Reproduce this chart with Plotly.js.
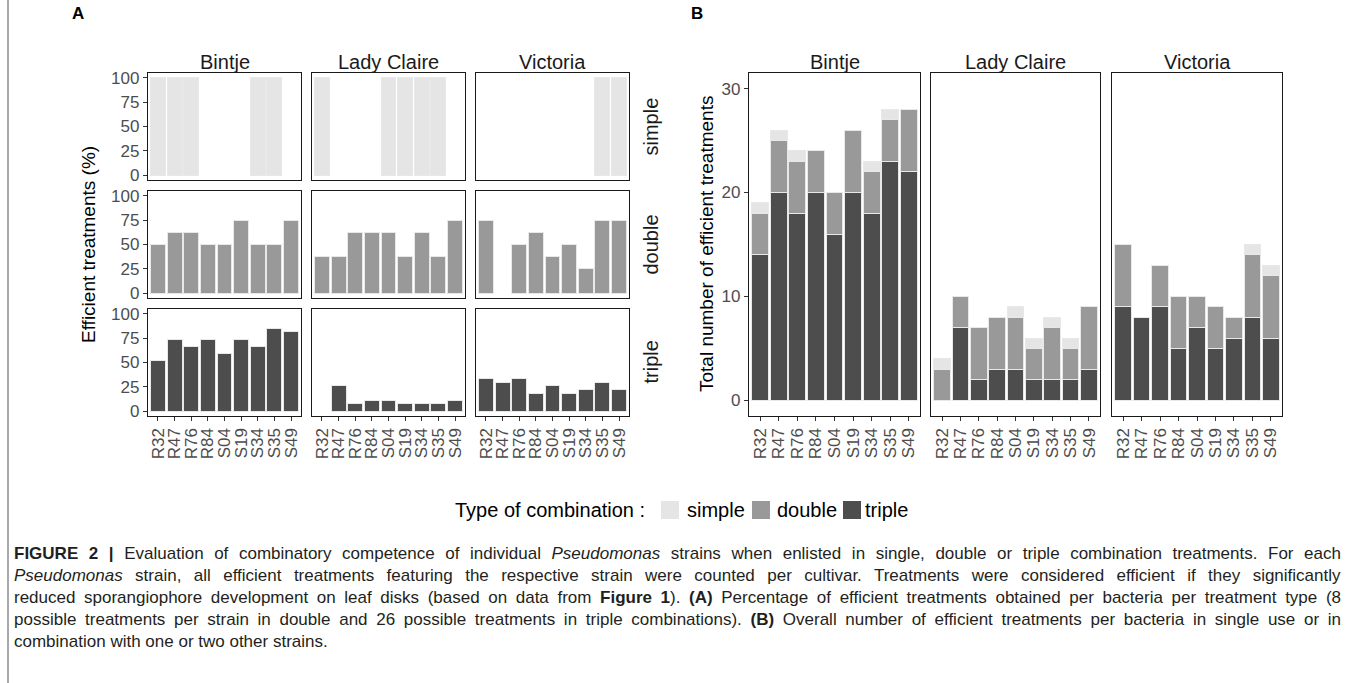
<!DOCTYPE html>
<html>
<head>
<meta charset="utf-8">
<script src="https://cdn.plot.ly/plotly-3.0.1.min.js"></script>
<style>
  html, body { margin: 0; padding: 0; background: #fff; }
  #chart { width: 1355px; height: 683px; }
</style>
</head>
<body>
<div id="chart"></div>
<script>
// ---------------- DATA ----------------
const strains = ['R32','R47','R76','R84','S04','S19','S34','S35','S49'];
const cultivars = ['Bintje','Lady Claire','Victoria'];
const types = ['simple','double','triple'];

// Panel A: percentage of efficient treatments
const pctSimpleBintje    = [100,100,100,0,0,0,100,100,0];
const pctSimpleLady      = [100,0,0,0,100,100,100,100,0];
const pctSimpleVictoria  = [0,0,0,0,0,0,0,100,100];
const pctDoubleBintje    = [50,62.5,62.5,50,50,75,50,50,75];
const pctDoubleLady      = [37.5,37.5,62.5,62.5,62.5,37.5,62.5,37.5,75];
const pctDoubleVictoria  = [75,0,50,62.5,37.5,50,25,75,75];
const pctTripleBintje    = [51.9,74.1,66.7,74.1,59.3,74.1,66.7,85.2,81.5];
const pctTripleLady      = [0,25.9,7.4,11.1,11.1,7.4,7.4,7.4,11.1];
const pctTripleVictoria  = [33.3,29.6,33.3,18.5,25.9,18.5,22.2,29.6,22.2];

// Panel B: number of efficient treatments
const nSimpleBintje    = [1,1,1,0,0,0,1,1,0];
const nDoubleBintje    = [4,5,5,4,4,6,4,4,6];
const nTripleBintje    = [14,20,18,20,16,20,18,23,22];
const nSimpleLady      = [1,0,0,0,1,1,1,1,0];
const nDoubleLady      = [3,3,5,5,5,3,5,3,6];
const nTripleLady      = [0,7,2,3,3,2,2,2,3];
const nSimpleVictoria  = [0,0,0,0,0,0,0,1,1];
const nDoubleVictoria  = [6,0,4,5,3,4,2,6,6];
const nTripleVictoria  = [9,8,9,5,7,5,6,8,6];

const ticksA = [0,25,50,75,100];
const ticksB = [0,10,20,30];

// ---------------- STYLE ----------------
const W = 1355, H = 683;
const colors = {simple:'#E5E5E5', double:'#999999', triple:'#4D4D4D'};
const FONT = 'Liberation Sans, Arial, sans-serif';
const tickFont = {family: FONT, size: 17, color: '#4D4D4D'};
const px = x => x / W;
const py = y => 1 - y / H;

const pctA = {
  simple: [pctSimpleBintje, pctSimpleLady, pctSimpleVictoria],
  double: [pctDoubleBintje, pctDoubleLady, pctDoubleVictoria],
  triple: [pctTripleBintje, pctTripleLady, pctTripleVictoria]
};
const cntB = {
  simple: [nSimpleBintje, nSimpleLady, nSimpleVictoria],
  double: [nDoubleBintje, nDoubleLady, nDoubleVictoria],
  triple: [nTripleBintje, nTripleLady, nTripleVictoria]
};

const colsA = [[148,301],[312,465],[476,629]];
const rowsA = [[73,180],[191,298],[309,416]];
const colsB = [[749,920],[931,1100],[1112,1282]];
const rowB = [73,416];

const nz = arr => arr.map(v => v === 0 ? null : v);

const traces = [];
const layout = {
  width: W, height: H, autosize: false,
  margin: {l:0, r:0, t:0, b:0},
  paper_bgcolor: '#fff', plot_bgcolor: '#fff',
  barmode: 'stack', bargap: 0.1,
  showlegend: false,
  font: {family: FONT},
  annotations: [], shapes: []
};

let idx = 0;
function addAxes(xd, yd, yrange, yticks, showX, showY) {
  idx++;
  const sfx = idx === 1 ? '' : String(idx);
  layout['xaxis' + sfx] = {
    domain: [px(xd[0]), px(xd[1])], anchor: 'y' + sfx,
    type: 'category', categoryorder: 'array', categoryarray: strains,
    tickmode: 'array', tickvals: strains, ticktext: strains,
    range: [-0.6, strains.length - 0.4], fixedrange: true,
    showline: true, mirror: true, linecolor: '#1a1a1a', linewidth: 1.2,
    showgrid: false, zeroline: false,
    ticks: showX ? 'outside' : '', ticklen: 4, tickcolor: '#333', tickwidth: 1,
    showticklabels: showX, tickangle: -90, tickfont: tickFont
  };
  layout['yaxis' + sfx] = {
    domain: [py(yd[1]), py(yd[0])], anchor: 'x' + sfx,
    range: yrange, tickmode: 'array', tickvals: yticks, fixedrange: true,
    showline: true, mirror: true, linecolor: '#1a1a1a', linewidth: 1.2,
    showgrid: false, zeroline: false,
    ticks: showY ? 'outside' : '', ticklen: 4, tickcolor: '#333', tickwidth: 1,
    showticklabels: showY, tickfont: tickFont
  };
  return {x: 'x' + sfx, y: 'y' + sfx};
}

// Panel A
types.forEach((t, r) => {
  cultivars.forEach((c, ci) => {
    const ax = addAxes(colsA[ci], rowsA[r], [-5, 105], ticksA, r === 2, ci === 0);
    traces.push({
      type: 'bar', x: strains, y: nz(pctA[t][ci]), xaxis: ax.x, yaxis: ax.y,
      width: 0.9, name: t,
      marker: {color: colors[t], line: {color: '#E8E8E8', width: 1}},
      hoverinfo: 'x+y'
    });
  });
});

// Panel B
cultivars.forEach((c, ci) => {
  const ax = addAxes(colsB[ci], rowB, [-1.5, 31.5], ticksB, true, ci === 0);
  ['triple','double','simple'].forEach(t => {
    traces.push({
      type: 'bar', x: strains, y: nz(cntB[t][ci]), xaxis: ax.x, yaxis: ax.y,
      width: 0.9, name: t,
      marker: {color: colors[t], line: {color: '#E8E8E8', width: 1}},
      hoverinfo: 'x+y+name'
    });
  });
});

const ann = layout.annotations;
function text(x, y, t, opts) {
  ann.push(Object.assign({
    xref: 'paper', yref: 'paper', x: px(x), y: py(y), text: t, showarrow: false,
    xanchor: 'center', yanchor: 'middle',
    font: {family: FONT, size: 20, color: '#1a1a1a'}
  }, opts || {}));
  return ann.length - 1;
}

// panel letters
text(78, 13, '<b>A</b>', {font: {family: FONT, size: 17, color: '#000'}});
text(697, 13, '<b>B</b>', {font: {family: FONT, size: 17, color: '#000'}});

// strip titles
cultivars.forEach((c, ci) => {
  text((colsA[ci][0] + colsA[ci][1]) / 2, 62, c);
  text((colsB[ci][0] + colsB[ci][1]) / 2, 62, c);
});
types.forEach((t, r) => {
  text(650, (rowsA[r][0] + rowsA[r][1]) / 2, t, {textangle: -90});
});

// axis titles
text(88, 244, 'Efficient treatments (%)', {textangle: -90, font: {family: FONT, size: 19, color: '#000'}});
text(706, 244, 'Total number of efficient treatments', {textangle: -90, font: {family: FONT, size: 19, color: '#000'}});

// legend
text(453, 510, 'Type of combination :', {xanchor: 'left', font: {family: FONT, size: 20, color: '#000'}});
const legItems = [
  {t: 'simple', sx: 661, tx: 685},
  {t: 'double', sx: 752, tx: 775},
  {t: 'triple', sx: 843, tx: 863}
];
legItems.forEach(it => {
  layout.shapes.push({type: 'rect', xref: 'paper', yref: 'paper',
    x0: px(it.sx), x1: px(it.sx + 18), y0: py(519), y1: py(501),
    fillcolor: colors[it.t], line: {width: 0}});
  text(it.tx, 510, it.t, {xanchor: 'left', font: {family: FONT, size: 20, color: '#000'}});
});

// left frame line
layout.shapes.push({type: 'line', xref: 'paper', yref: 'paper',
  x0: px(8), x1: px(8), y0: 0, y1: 1, line: {color: '#555', width: 1}});

// caption
const caption = [
  '<b>FIGURE 2 |</b> Evaluation of combinatory competence of individual <i>Pseudomonas</i> strains when enlisted in single, double or triple combination treatments. For each',
  '<i>Pseudomonas</i> strain, all efficient treatments featuring the respective strain were counted per cultivar. Treatments were considered efficient if they significantly',
  'reduced sporangiophore development on leaf disks (based on data from <b>Figure 1</b>). <b>(A)</b> Percentage of efficient treatments obtained per bacteria per treatment type (8',
  'possible treatments per strain in double and 26 possible treatments in triple combinations). <b>(B)</b> Overall number of efficient treatments per bacteria in single use or in',
  'combination with one or two other strains.'
];
const captionIdx = caption.map((line, i) =>
  text(12, 553 + i * 22, line, {xanchor: 'left', align: 'left',
    font: {family: FONT, size: 17, color: '#231F20'}})
);
const justifyRight = 1341;

Plotly.newPlot('chart', traces, layout, {staticPlot: true, displayModeBar: false}).then(gd => {
  // justify the caption lines (all but the last) to the right edge
  captionIdx.slice(0, caption.length - 1).forEach(k => {
    const el = gd.querySelector('.annotation[data-index="' + k + '"] .annotation-text');
    if (!el) return;
    const spaces = (el.textContent.match(/ /g) || []).length;
    const gdBox = gd.getBoundingClientRect();
    const r = el.getBoundingClientRect();
    const extra = justifyRight - (r.right - gdBox.left);
    if (spaces > 0 && extra > 0) el.style.wordSpacing = (extra / spaces) + 'px';
  });
});
</script>
</body>
</html>
